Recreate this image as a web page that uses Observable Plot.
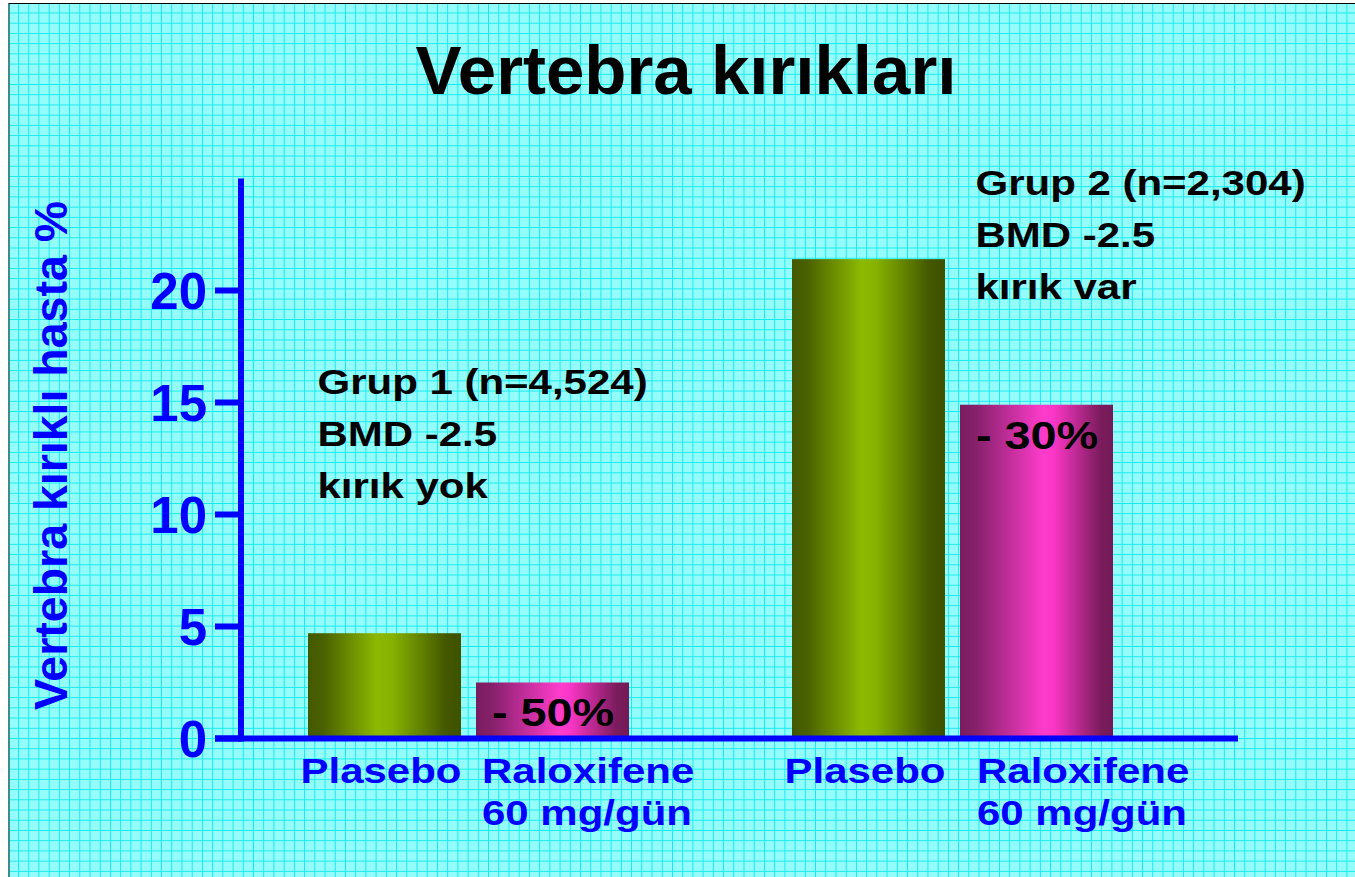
<!DOCTYPE html>
<html>
<head>
<meta charset="utf-8">
<script src="https://cdn.jsdelivr.net/npm/d3@7"></script>
<script src="https://cdn.jsdelivr.net/npm/@observablehq/plot@0.6"></script>
<style>
  html, body { margin: 0; padding: 0; background: #ffffff; }
  #page { position: relative; width: 1355px; height: 877px; overflow: hidden; }
  #bg {
    position: absolute; left: 8px; top: 3px; width: 1345px; height: 873px;
    background-color: #95fcfc;
    background-image:
      linear-gradient(to right, #14eaee 0, #14eaee 1px, transparent 1px),
      linear-gradient(to bottom, #14eaee 0, #14eaee 1px, transparent 1px);
    background-size: 10.22px 10.22px;
    background-position: 8px 8.5px;
    border-top: 1px solid #000;
    border-left: 2px solid #3d8b8b;
  }
  #title {
    position: absolute; left: 686px; top: 37px; transform: translateX(-50%);
    font-family: "Liberation Sans", Arial, sans-serif; font-weight: bold;
    font-size: 69px; line-height: 68px; color: #000; white-space: nowrap;
  }
  #chart { position: absolute; left: 0; top: 120px; }
</style>
</head>
<body>
<div id="page">
  <div id="bg"></div>
  <div id="title">Vertebra kırıkları</div>
  <div id="chart"></div>
</div>
<script>
// ---- data ----
const groups = ["Grup 1", "Grup 2"];
const treatments = ["Plasebo", "Raloxifene"];
const treatmentLabels = ["Plasebo", "Raloxifene\n60 mg/gün"];
const group1Values = [4.7, 2.5];
const group2Values = [21.4, 14.9];
const reductions = ["- 50%", "- 30%"];
const groupNotes = [
  "Grup 1 (n=4,524)\nBMD -2.5\nkırık yok",
  "Grup 2 (n=2,304)\nBMD -2.5\nkırık var"
];
const yTicks = [0, 5, 10, 15, 20];
const yLabel = "Vertebra kırıklı hasta %";

// ---- tables built from the arrays ----
const groupValues = [group1Values, group2Values];
const rows = [];
groups.forEach((g, gi) => treatments.forEach((t, ti) => rows.push({
  group: g, treatment: t, label: treatmentLabels[ti], value: groupValues[gi][ti],
  reduction: ti === 1 ? reductions[gi] : null
})));
const notes = groups.map((g, i) => ({group: g, text: groupNotes[i]}));

const BLUE = "#0000ff";
const ARIAL = "'Liberation Sans', Arial, sans-serif";
const txt = {fontFamily: ARIAL, fontWeight: "bold"};
const ralox = (g) => rows.filter(d => d.treatment === "Raloxifene" && d.group === g);

const chart = Plot.plot({
  width: 1355,
  height: 757,
  marginTop: 58.5,
  marginBottom: 138.5,
  marginLeft: 288,
  marginRight: 222,
  style: {background: "transparent", overflow: "visible"},
  fx: {domain: groups, paddingInner: 0.2577, paddingOuter: 0, axis: null, label: null},
  x: {domain: treatments, paddingInner: 0.089, paddingOuter: 0.109, axis: null, label: null},
  y: {domain: [0, 25], axis: null},
  marks: [
    Plot.barY(rows.filter(d => d.treatment === "Plasebo"),
      {fx: "group", x: "treatment", y: "value", fill: "url(#gradGreen)"}),
    Plot.barY(rows.filter(d => d.treatment === "Raloxifene"),
      {fx: "group", x: "treatment", y: "value", fill: "url(#gradPink)"}),
    Plot.text(rows.filter(d => d.reduction), {
      ...txt, fx: "group", x: "treatment", y: "value", text: "reduction",
      dy: 31, fontSize: 39, fill: "#000"
    }),
    Plot.text(rows.filter(d => d.treatment === "Plasebo"), {
      ...txt, fx: "group", x: "treatment", text: "label", frameAnchor: "bottom",
      lineAnchor: "top", dy: 14, dx: -4, textAnchor: "middle", lineHeight: 1.2,
      fontSize: 35, fill: BLUE
    }),
    Plot.text(ralox(groups[0]), {
      ...txt, fx: "group", x: "treatment", text: "label", frameAnchor: "bottom",
      lineAnchor: "top", dy: 14, dx: -71, textAnchor: "start", lineHeight: 1.2,
      fontSize: 35, fill: BLUE
    }),
    Plot.text(ralox(groups[1]), {
      ...txt, fx: "group", x: "treatment", text: "label", frameAnchor: "bottom",
      lineAnchor: "top", dy: 14, dx: -60, textAnchor: "start", lineHeight: 1.2,
      fontSize: 35, fill: BLUE
    }),
    Plot.text(notes.filter(d => d.group === groups[0]), {
      ...txt, fx: "group", text: "text", frameAnchor: "top-left", textAnchor: "start",
      lineAnchor: "top", dx: 28, dy: 177.5, lineHeight: 1.49,
      fontSize: 35, fill: "#000"
    }),
    Plot.text(notes.filter(d => d.group === groups[1]), {
      ...txt, fx: "group", text: "text", frameAnchor: "top-left", textAnchor: "start",
      lineAnchor: "top", dx: 202, dy: -21.5, lineHeight: 1.49,
      fontSize: 35, fill: "#000"
    })
  ]
});

const svg = d3.select(chart);

// the reference lettering is horizontally widened: widen each Plot label around its anchor
svg.selectAll("text").each(function () {
  const ax = +(this.getAttribute("x") || 0);
  const t = this.getAttribute("transform") || "";
  this.setAttribute("transform", `${t} translate(${ax},0) scale(1.2,1) translate(${-ax},0)`.trim());
});

// gradients for the bars
const defs = svg.insert("defs", ":first-child");
function grad(id, stops) {
  const g = defs.append("linearGradient").attr("id", id)
    .attr("x1", 0).attr("x2", 1).attr("y1", 0).attr("y2", 0);
  stops.forEach(([o, c]) => g.append("stop").attr("offset", o).attr("stop-color", c));
}
grad("gradGreen", [["0%", "#435900"], ["10%", "#4a6100"], ["45%", "#8cb900"], ["55%", "#86b200"], ["90%", "#435800"], ["100%", "#3e5200"]]);
grad("gradPink", [["0%", "#791c5f"], ["10%", "#85206a"], ["55%", "#ff3ccc"], ["62%", "#f835c4"], ["92%", "#7a1c5c"], ["100%", "#741957"]]);

// axes drawn with Plot's own y scale
const ys = chart.scale("y");
const axisX = 241, tickLeft = 215, xAxisRight = 1238;
const ax = svg.append("g").attr("class", "axes");
ax.append("line")
  .attr("x1", axisX).attr("x2", axisX)
  .attr("y1", ys.apply(ys.domain[1])).attr("y2", ys.apply(0) + 3)
  .attr("stroke", BLUE).attr("stroke-width", 6);
ax.append("line")
  .attr("x1", tickLeft).attr("x2", xAxisRight)
  .attr("y1", ys.apply(0)).attr("y2", ys.apply(0))
  .attr("stroke", BLUE).attr("stroke-width", 6);
yTicks.forEach(t => {
  const y = ys.apply(t);
  ax.append("line").attr("x1", tickLeft).attr("x2", axisX)
    .attr("y1", y).attr("y2", y).attr("stroke", BLUE).attr("stroke-width", 6);
  ax.append("text").attr("x", 207).attr("y", y).attr("dy", "0.36em")
    .attr("text-anchor", "end").attr("fill", BLUE)
    .attr("font-family", ARIAL).attr("font-weight", "bold").attr("font-size", 51)
    .text(t);
});
ax.append("text")
  .attr("transform", `translate(67,${(ys.apply(0) + ys.apply(ys.domain[1])) / 2 - 3}) rotate(-90)`)
  .attr("text-anchor", "middle").attr("fill", BLUE)
  .attr("font-family", ARIAL).attr("font-weight", "bold").attr("font-size", 46.5)
  .text(yLabel);

document.getElementById("chart").appendChild(chart);
</script>
</body>
</html>
